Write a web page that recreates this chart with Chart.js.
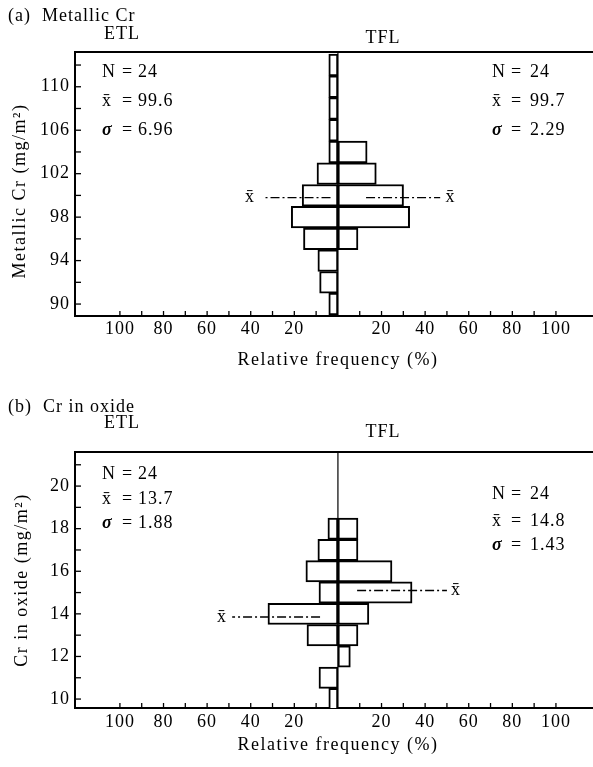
<!DOCTYPE html>
<html>
<head>
<meta charset="utf-8">
<script src="https://cdn.jsdelivr.net/npm/chart.js@4.4.0/dist/chart.umd.min.js"></script>
<style>
  html, body { margin: 0; padding: 0; background: #fff; }
  #wrap { position: relative; width: 593px; height: 767px; }
  canvas { position: absolute; left: 0; }
</style>
</head>
<body>
<div id="wrap">
  <canvas id="chartA" width="593" height="380" style="top:0px"></canvas>
  <canvas id="chartB" width="593" height="387" style="top:380px"></canvas>
</div>
<script>
// (a) metallic Cr: bin centres (mg/m2) and relative frequency (%)
const metBins = [90, 92, 94, 96, 98, 100, 102, 104, 106, 108, 110, 112];
const metETL  = [4.2, 8.4, 9.2, 15.8, 21.4, 16.4, 9.6, 4.2, 4.2, 4.2, 4.2, 4.2];
const metTFL  = [0, 0, 0, 9.2, 32.9, 30.1, 17.6, 13.4, 0, 0, 0, 0];
const metYTicks  = [90, 92, 94, 96, 98, 100, 102, 104, 106, 108, 110, 112];
const metYLabels = [90, 94, 98, 102, 106, 110];
const metStatsETL = ['24', '99.6', '6.96'];
const metStatsTFL = ['24', '99.7', '2.29'];
const metMeans = [99.8, 99.8]; // ETL, TFL (where the dash-dot lines sit)

// (b) Cr in oxide
const oxBins = [10, 11, 12, 13, 14, 15, 16, 17, 18];
const oxETL  = [4.2, 8.7, 0, 14.2, 32.1, 8.7, 14.7, 9.2, 4.6];
const oxTFL  = [0, 0, 5.7, 9.2, 14.2, 34.0, 24.8, 9.2, 9.2];
const oxYTicks  = [10, 11, 12, 13, 14, 15, 16, 17, 18, 19, 20, 21];
const oxYLabels = [10, 12, 14, 16, 18, 20];
const oxStatsETL = ['24', '13.7', '1.88'];
const oxStatsTFL = ['24', '14.8', '1.43'];
const oxMeans = [13.85, 15.1];

// shared x axis (ETL drawn to the left as negative %)
const freqTicks  = [-100, -90, -80, -70, -60, -50, -40, -30, -20, -10, 10, 20, 30, 40, 50, 60, 70, 80, 90, 100];
const freqLabels = [20, 40, 60, 80, 100];

const SERIF = '"Liberation Serif", "DejaVu Serif", serif';
const FS = 18;
const XBAR = 'x\u0304';

function toPoints(bins, vals, sign) {
  return bins.map((b, i) => ({ x: sign * vals[i], y: b })).filter(p => p.x !== 0);
}

function line(ctx, x1, y1, x2, y2) {
  ctx.beginPath(); ctx.moveTo(x1, y1); ctx.lineTo(x2, y2); ctx.stroke();
}

const panelDeco = {
  id: 'panelDeco',
  beforeDraw(chart) {
    // wider tracking like the printed figure (kept for the tick labels too)
    chart.ctx.letterSpacing = '1px';
  },
  afterDatasetsDraw(chart, args, o) {
    const { ctx, chartArea: a, scales: { x, y } } = chart;
    ctx.save();
    ctx.strokeStyle = '#000';
    // centre line
    ctx.lineWidth = 1.2;
    const x0 = x.getPixelForValue(0);
    line(ctx, x0, a.top, x0, a.bottom);
    // mean lines, dash-dot
    ctx.lineWidth = 1.4;
    ctx.setLineDash([9, 3, 2, 3]);
    o.means.forEach(m => {
      const py = y.getPixelForValue(m.y);
      line(ctx, x.getPixelForValue(m.from), py, x.getPixelForValue(m.to), py);
    });
    ctx.setLineDash([]);
    ctx.fillStyle = '#000';
    ctx.font = FS + 'px ' + SERIF;
    ctx.textAlign = 'center';
    ctx.textBaseline = 'middle';
    o.means.forEach(m => {
      ctx.fillText(XBAR, x.getPixelForValue(m.label), y.getPixelForValue(m.y));
    });
    ctx.restore();
  },
  afterDraw(chart, args, o) {
    const { ctx, chartArea: a, scales: { x, y } } = chart;
    ctx.save();
    ctx.strokeStyle = '#000';
    ctx.fillStyle = '#000';
    // top frame line
    ctx.lineWidth = 2;
    line(ctx, a.left - 1, a.top, a.right, a.top);
    // inward tick marks
    ctx.lineWidth = 1.3;
    x.ticks.forEach(t => {
      const px = x.getPixelForValue(t.value);
      line(ctx, px, a.bottom, px, a.bottom - 5);
    });
    y.ticks.forEach(t => {
      const py = y.getPixelForValue(t.value);
      line(ctx, a.left, py, a.left + 6, py);
    });

    ctx.font = FS + 'px ' + SERIF;
    ctx.textBaseline = 'middle';
    ctx.textAlign = 'left';
    ctx.fillText(o.title, 8, o.titleY);
    ctx.textAlign = 'center';
    ctx.fillText('ETL', 122, o.etlY);
    ctx.fillText('TFL', 383, o.tflY);

    // statistics blocks
    const drawStats = (vals, sx, ex, vx, rows) => {
      const syms = ['N', XBAR, '\u03c3'];
      ctx.textAlign = 'left';
      syms.forEach((s, i) => {
        ctx.font = (i === 2 ? 'italic bold ' : '') + FS + 'px ' + SERIF;
        ctx.fillText(s, sx, rows[i]);
        ctx.font = FS + 'px ' + SERIF;
        ctx.fillText('=', ex, rows[i]);
        ctx.fillText(vals[i], vx, rows[i]);
      });
    };
    drawStats(o.statsETL, 102, 122, 138, o.rowsETL);
    drawStats(o.statsTFL, 492, 511, 530, o.rowsTFL);

    // axis titles
    ctx.font = FS + 'px ' + SERIF;
    ctx.letterSpacing = '1.5px';
    ctx.textAlign = 'center';
    ctx.fillText('Relative frequency (%)', x.getPixelForValue(0), o.xTitleY);
    ctx.save();
    ctx.translate(o.yTitleX, o.yTitleY);
    ctx.rotate(-Math.PI / 2);
    ctx.fillText(o.yTitle, 0, 0);
    ctx.restore();
    ctx.restore();
  }
};

function makePanel(id, p) {
  const canvas = document.getElementById(id);
  const H = canvas.height;
  const barStyle = {
    backgroundColor: '#fff',
    borderColor: '#000',
    borderWidth: 2,
    borderSkipped: false,
    grouped: false,
    barPercentage: 1,
    categoryPercentage: 1
  };
  return new Chart(canvas, {
    type: 'bar',
    data: {
      datasets: [
        Object.assign({ label: 'ETL', data: toPoints(p.bins, p.etl, -1) }, barStyle),
        Object.assign({ label: 'TFL', data: toPoints(p.bins, p.tfl, 1) }, barStyle)
      ]
    },
    options: {
      indexAxis: 'y',
      responsive: false,
      animation: false,
      devicePixelRatio: 1,
      layout: { padding: { top: p.top, right: 0, bottom: 0, left: 0 } },
      plugins: {
        legend: { display: false },
        tooltip: { enabled: false },
        panelDeco: p.deco
      },
      scales: {
        x: {
          type: 'linear',
          min: -120.6,
          max: 117,
          afterBuildTicks: s => { s.ticks = freqTicks.map(v => ({ value: v })); },
          afterFit: s => { s.height = H - p.bottom; },
          grid: { display: false, drawTicks: false },
          border: { display: true, color: '#000', width: 2 },
          ticks: {
            autoSkip: false,
            maxRotation: 0,
            padding: p.xPad,
            color: '#000',
            font: { family: SERIF, size: FS },
            callback: v => freqLabels.includes(Math.abs(v)) ? String(Math.abs(v)) : ''
          }
        },
        y: {
          type: 'linear',
          offset: false,
          min: p.yMin,
          max: p.yMax,
          afterBuildTicks: s => { s.ticks = p.yTicks.map(v => ({ value: v })); },
          afterFit: s => { s.width = 75; },
          grid: { display: false, drawTicks: false },
          border: { display: true, color: '#000', width: 2 },
          ticks: {
            autoSkip: false,
            padding: 5,
            color: '#000',
            font: { family: SERIF, size: FS },
            callback: v => p.yLabels.includes(v) ? String(v) : ''
          }
        }
      }
    },
    plugins: [panelDeco]
  });
}

makePanel('chartA', {
  bins: metBins, etl: metETL, tfl: metTFL,
  yMin: 88.9, yMax: 113.2, yTicks: metYTicks, yLabels: metYLabels,
  top: 52, bottom: 316, xPad: 2,
  deco: {
    title: '(a)  Metallic Cr', titleY: 16, etlY: 34, tflY: 38,
    statsETL: metStatsETL, statsTFL: metStatsTFL,
    rowsETL: [72, 101, 130], rowsTFL: [72, 101, 130],
    means: [
      { y: metMeans[0], from: -3.4, to: -34, label: -40.3 },
      { y: metMeans[1], from: 12.9, to: 46.9, label: 51.6 }
    ],
    xTitleY: 360, yTitle: 'Metallic Cr (mg/m\u00b2)', yTitleX: 20, yTitleY: 191
  }
});

makePanel('chartB', {
  bins: oxBins, etl: oxETL, tfl: oxTFL,
  yMin: 9.58, yMax: 21.6, yTicks: oxYTicks, yLabels: oxYLabels,
  top: 72, bottom: 328, xPad: 3,
  deco: {
    title: '(b)  Cr in oxide', titleY: 27, etlY: 43, tflY: 52,
    statsETL: oxStatsETL, statsTFL: oxStatsTFL,
    rowsETL: [94, 119, 143], rowsTFL: [114, 141, 165],
    means: [
      { y: oxMeans[0], from: -8.2, to: -48.5, label: -53.2 },
      { y: oxMeans[1], from: 8.8, to: 50, label: 54.2 }
    ],
    xTitleY: 365, yTitle: 'Cr in oxide (mg/m\u00b2)', yTitleX: 22, yTitleY: 200
  }
});
</script>
</body>
</html>
